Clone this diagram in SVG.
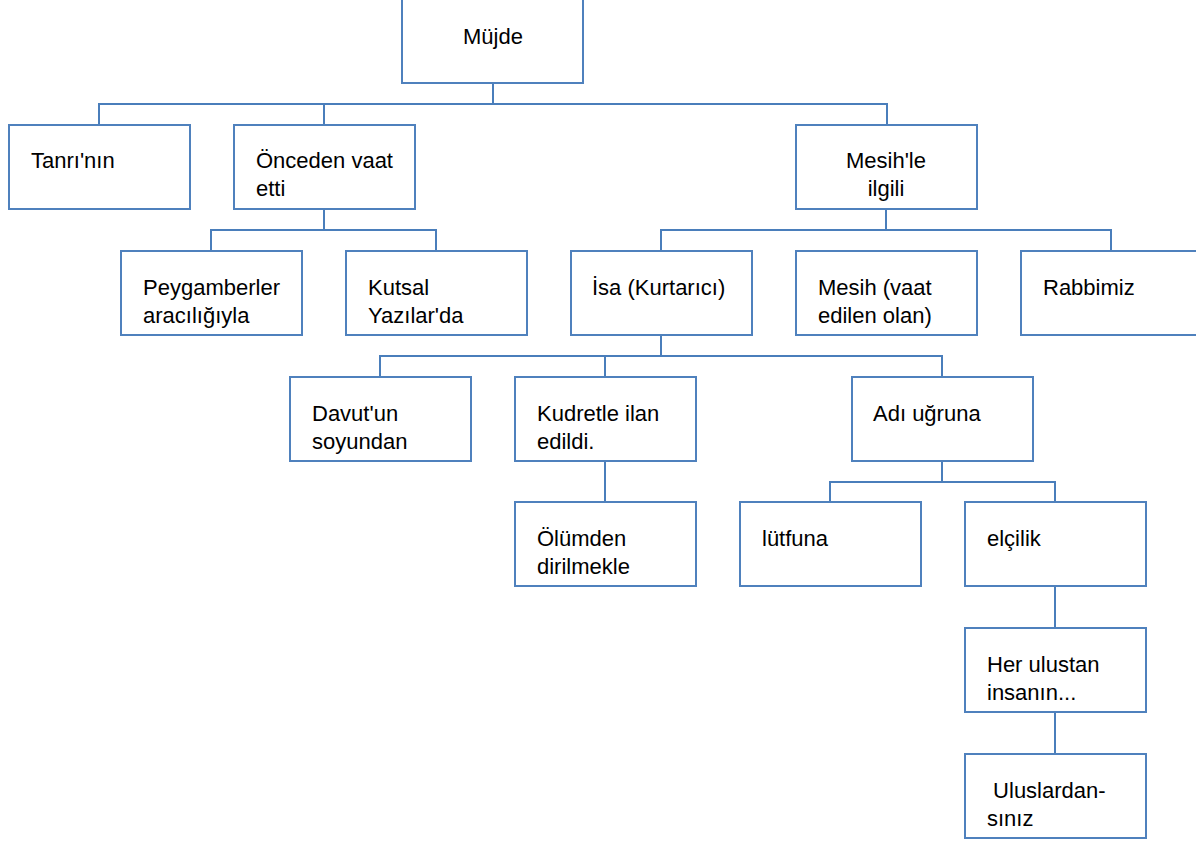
<svg xmlns="http://www.w3.org/2000/svg" width="1196" height="842" viewBox="0 0 1196 842">
<style>
rect.box{fill:#ffffff;stroke:#4F81BD;stroke-width:2}
.conn path{fill:none;stroke:#4A7EBB;stroke-width:2}
text{font-family:"Liberation Sans",Arial,sans-serif;font-size:22px;fill:#000000}
.c{text-anchor:middle}
</style>
<rect width="1196" height="842" fill="#ffffff"/>
<g id="connectors" class="conn">
<path d="M493,83 V104"/>
<path d="M99,125 V104 H887 V125"/>
<path d="M324,104 V125"/>
<path d="M324,209 V230"/>
<path d="M211,251 V230 H436 V251"/>
<path d="M886,209 V230"/>
<path d="M661,251 V230 H1111 V251"/>
<path d="M661,335 V356"/>
<path d="M380,377 V356 H942 V377"/>
<path d="M605,356 V377"/>
<path d="M605,461 V502"/>
<path d="M942,461 V482"/>
<path d="M830,502 V482 H1055 V502"/>
<path d="M1055,586 V628"/>
<path d="M1055,712 V754"/>
</g>
<g id="n-mujde"><rect class="box" x="402" y="-1" width="181" height="84"/><text class="c" x="493" y="44">Müjde</text></g>
<g id="n-tanri"><rect class="box" x="9" y="125" width="181" height="84"/><text x="31" y="168">Tanrı'nın</text></g>
<g id="n-onceden"><rect class="box" x="234" y="125" width="181" height="84"/><text x="256" y="168">Önceden vaat</text><text x="256" y="196">etti</text></g>
<g id="n-mesihle"><rect class="box" x="796" y="125" width="181" height="84"/><text class="c" x="886" y="168">Mesih'le</text><text class="c" x="886" y="196">ilgili</text></g>
<g id="n-peygamber"><rect class="box" x="121" y="251" width="181" height="84"/><text x="143" y="295">Peygamberler</text><text x="143" y="323">aracılığıyla</text></g>
<g id="n-kutsal"><rect class="box" x="346" y="251" width="181" height="84"/><text x="368" y="295">Kutsal</text><text x="368" y="323">Yazılar'da</text></g>
<g id="n-isa"><rect class="box" x="571" y="251" width="181" height="84"/><text x="592" y="295">İsa (Kurtarıcı)</text></g>
<g id="n-mesih"><rect class="box" x="796" y="251" width="181" height="84"/><text x="818" y="295">Mesih (vaat</text><text x="818" y="323">edilen olan)</text></g>
<g id="n-rabbimiz"><rect class="box" x="1021" y="251" width="181" height="84"/><text x="1043" y="295">Rabbimiz</text></g>
<g id="n-davut"><rect class="box" x="290" y="377" width="181" height="84"/><text x="312" y="421">Davut'un</text><text x="312" y="449">soyundan</text></g>
<g id="n-kudret"><rect class="box" x="515" y="377" width="181" height="84"/><text x="537" y="421">Kudretle ilan</text><text x="537" y="449">edildi.</text></g>
<g id="n-adi"><rect class="box" x="852" y="377" width="181" height="84"/><text x="873" y="421">Adı uğruna</text></g>
<g id="n-olumden"><rect class="box" x="515" y="502" width="181" height="84"/><text x="537" y="546">Ölümden</text><text x="537" y="574">dirilmekle</text></g>
<g id="n-lutfuna"><rect class="box" x="740" y="502" width="181" height="84"/><text x="762" y="546">lütfuna</text></g>
<g id="n-elcilik"><rect class="box" x="965" y="502" width="181" height="84"/><text x="987" y="546">elçilik</text></g>
<g id="n-herulus"><rect class="box" x="965" y="628" width="181" height="84"/><text x="987" y="672">Her ulustan</text><text x="987" y="700">insanın...</text></g>
<g id="n-uluslar"><rect class="box" x="965" y="754" width="181" height="84"/><text x="987" y="798" xml:space="preserve"> Uluslardan-</text><text x="987" y="826">sınız</text></g>
</svg>
